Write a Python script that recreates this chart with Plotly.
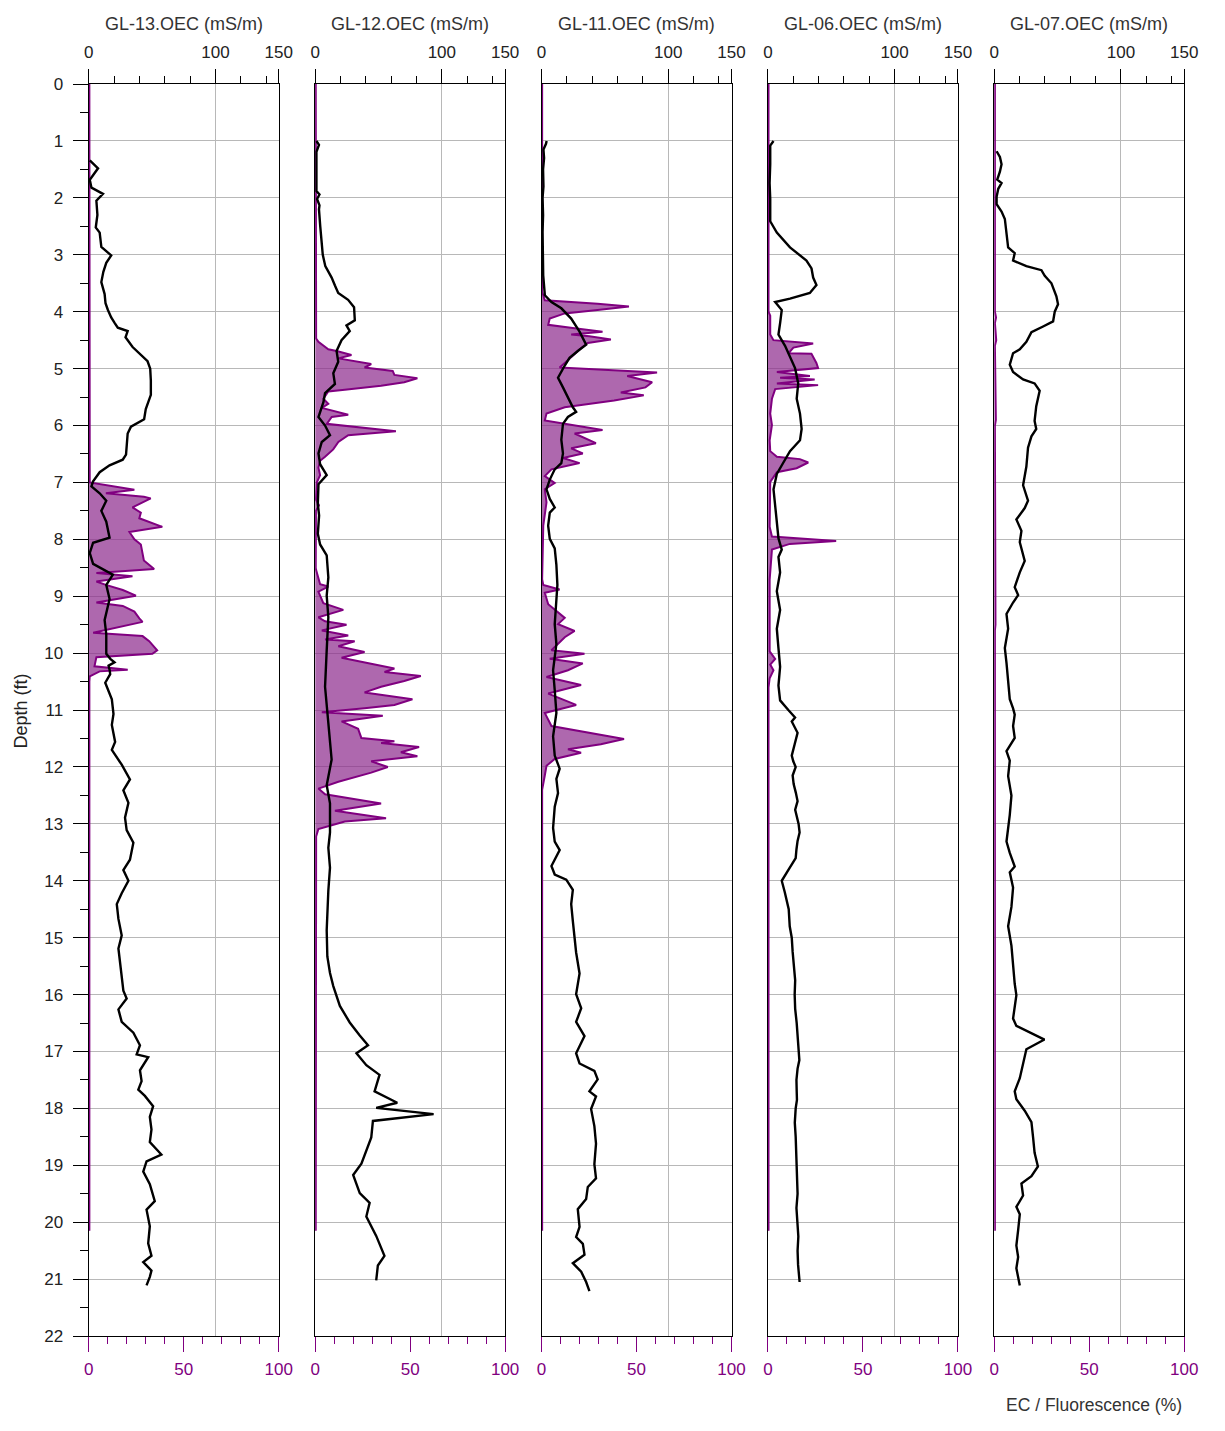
import plotly.graph_objects as go

# ---------------- data ----------------
wells = ["GL-13", "GL-12", "GL-11", "GL-06", "GL-07"]

gl13_ec_depth = [1.34,1.48,1.68,1.82,1.93,2.05,2.3,2.52,2.61,2.86,3.01,3.14,3.3,3.48,3.69,3.85,3.97,4.10,4.2,4.28,4.34,4.45,4.62,4.78,4.87,5.0,5.21,5.46,5.71,5.89,6.02,6.14,6.51,6.60,6.70,6.82,6.98,7.07,7.19,7.32,7.50,7.69,7.97,8.06,8.24,8.43,8.62,8.80,9.05,9.42,9.67,10.01,10.1,10.16,10.22,10.3,10.37,10.52,10.81,11.07,11.26,11.56,11.70,11.96,12.22,12.41,12.63,12.89,13.11,13.33,13.63,13.81,14.0,14.22,14.41,14.67,14.96,15.19,15.48,15.70,15.93,16.07,16.26,16.48,16.67,16.89,17.05,17.1,17.33,17.52,17.67,17.78,17.96,18.15,18.37,18.59,18.81,18.93,19.11,19.33,19.63,19.78,20.07,20.37,20.59,20.70,20.85,20.96,21.11]
gl13_ec = [0.8,7.3,0.8,2.1,11.2,6.0,6.8,5.5,8.6,9.9,17.7,13.8,11.5,9.9,12.5,13.2,15.1,17.7,20.5,22.9,30.7,29,34.6,42.5,46.4,48.5,49,49,45,43.7,33.3,30.7,29.4,26.8,16.4,8.6,3.4,2.1,8.6,13.8,9.9,13.8,16.4,3.4,0.8,3.4,19,13.8,16.4,12.5,13.8,13.8,17,20.3,15.6,16.5,16.9,13,18.2,19.5,18.2,20.8,18.2,26,32.5,27.3,31.3,28.6,29.9,35.2,32.5,27.3,31.3,26,22.1,23.4,26,23.4,24.7,26,27.3,29.9,23.4,26,35.2,40.4,37.8,46.9,40.4,41.7,39.1,44.3,50.8,48.2,49.5,48.2,57.3,45.6,43,48.2,52.1,45.6,48.2,46.9,49.5,43,49.5,48.2,45.6]
gl13_fl_depth = [0,6.98,7.0,7.13,7.19,7.25,7.28,7.44,7.53,7.63,7.78,7.87,8.0,8.09,8.28,8.37,8.52,8.59,8.65,8.74,8.80,8.89,8.99,9.11,9.17,9.27,9.39,9.45,9.64,9.70,9.79,9.95,10.01,10.07,10.23,10.29,10.32,10.41,10.5,20.15]
gl13_fl = [0.3,0.3,0.5,24,9,29,32.6,23,27.4,26.6,38.7,21.4,24,27.4,28.3,29,34.4,4,23,4,9,17.9,24.8,4,17.9,24,26.6,28.3,2.3,28.3,31.8,36,33.5,4,3,20.5,5.7,0.5,0.3,0.3]

gl12_ec_depth = [1.0,1.07,1.19,1.42,1.88,1.94,2.02,2.13,2.2,2.5,2.8,3.0,3.2,3.4,3.54,3.67,3.79,3.92,4.15,4.24,4.34,4.5,4.69,4.88,5.08,5.27,5.43,5.59,5.85,6.0,6.17,6.29,6.49,6.68,6.87,7.03,7.38,7.58,7.90,8.09,8.28,8.67,8.99,9.37,9.95,10.59,11.23,11.87,12.32,12.64,13.15,13.42,13.77,14.17,14.87,15.33,15.62,15.85,16.2,16.49,16.72,16.89,17.03,17.24,17.41,17.70,17.90,17.99,18.10,18.22,18.51,18.74,18.97,19.17,19.49,19.66,19.90,20.24,20.59,20.76,21.02]
gl12_ec = [1.0,3,1,1,1,3.4,1.5,3.4,3,4,5,6,8,13,15.6,18.2,26,30.7,31.3,24.7,27.3,20.8,16.9,18.2,14.3,15.6,7.8,6.5,2.6,7.8,11.7,5.2,2.6,3.9,9.1,2.6,2.1,3.1,2.1,3.9,9.1,10.4,9.1,10.4,9.1,7.8,10.4,13,9.1,11.7,11.7,10.4,11.7,10.4,9.1,9.6,11.7,14.3,19.5,27.3,35.2,41.7,32.6,40.4,50.8,46.9,64.8,48.2,93.5,45.6,44.3,40.4,36.5,30,35.2,43,40.4,48.2,54.7,49.5,48.2]
gl12_fl_depth = [0,4.4,4.47,4.53,4.66,4.69,4.76,4.82,4.85,4.92,4.98,5.04,5.11,5.17,5.24,5.30,5.37,5.40,5.53,5.62,5.69,5.81,5.85,5.97,6.10,6.17,6.29,6.42,6.55,6.62,6.74,6.87,7.0,7.3,7.4,7.5,8.5,8.54,8.79,8.83,8.92,9.12,9.24,9.37,9.44,9.50,9.60,9.69,9.76,9.79,9.88,9.98,10.08,10.21,10.27,10.33,10.40,10.49,10.59,10.69,10.81,10.91,10.97,11.04,11.10,11.20,11.33,11.49,11.55,11.58,11.65,11.74,11.81,11.90,12.0,12.10,12.26,12.38,12.48,12.64,12.77,12.90,12.96,13.09,13.22,20.15]
gl12_fl = [0.3,0.3,0.5,1.7,6.9,11.3,19.1,12.2,17.4,29.5,26,40.8,41.7,53.8,46.9,34.7,15.6,6.9,4.3,6.9,3.5,17.4,8.7,6.1,42.5,17.4,12.2,9.5,5.2,2.6,1.7,2.6,0.9,0.4,2,0.4,0.3,0.5,2.6,6.9,1.7,4.3,14.8,1.7,5.2,16.5,3.5,17.4,5.2,20.8,12.2,26,13.9,33,41.7,36.5,55.6,46.9,34.7,26,51.2,41.7,26,3.5,35.6,13.9,22.6,24.3,41.7,34.7,54.7,45.1,53.8,29.5,38.2,29.5,12.2,1.7,5.2,34.7,10.4,37.3,15.6,1.7,0.5,0.3]

gl11_ec_depth = [1.0,1.05,1.15,1.3,1.5,1.8,2.0,2.3,2.6,3.0,3.36,3.71,3.83,3.94,4.12,4.35,4.58,4.69,4.81,4.95,5.16,5.33,5.50,5.68,5.76,5.85,5.97,6.25,6.49,6.66,6.77,6.95,7.12,7.29,7.44,7.53,7.76,7.99,8.16,8.45,8.80,9.14,9.49,9.84,10.30,10.65,11.05,11.46,11.80,12.03,12.21,12.46,12.70,13.07,13.31,13.46,13.74,13.89,13.98,14.16,14.41,14.71,15.02,15.26,15.63,15.99,16.24,16.48,16.73,17.03,17.21,17.34,17.49,17.70,17.79,18.01,18.31,18.62,18.98,19.23,19.38,19.59,19.77,20.08,20.26,20.38,20.57,20.72,20.87,21.05,21.21]
gl11_ec = [4,3.5,1.5,2.0,1.2,1.5,0.8,1.2,0.8,0.8,1.3,2.6,7.8,15.6,23.4,30,35.2,28.6,22.1,18.2,13,16.9,20.8,24.7,27.3,20.8,16.9,15.6,16.9,15.6,10.4,6.5,3.9,6.5,10.4,6.5,5.2,6.5,10.4,11.7,12.5,11.7,10.4,11.7,9.1,10.4,11.7,9.1,10.4,14.3,11.7,13,10.4,9.1,10.4,14.3,7.8,10.4,19.5,24.7,23.4,24.7,26,27.3,30,27.3,31.3,27.3,33.9,27.3,30,41.7,44.3,37.8,43,39.1,41.7,43,41.7,43,36.5,35.2,28.6,30,27.3,32.6,33.9,24.7,31.3,35.2,37.8]
gl11_fl_depth = [0,3.65,3.71,3.80,3.86,3.91,3.97,4.03,4.12,4.23,4.29,4.35,4.40,4.43,4.49,4.55,4.64,4.75,4.90,4.98,5.07,5.13,5.24,5.33,5.42,5.47,5.56,5.68,5.79,5.91,6.08,6.14,6.31,6.40,6.49,6.57,6.66,6.77,6.89,7.01,7.12,7.35,7.53,7.76,8.7,8.80,8.88,8.94,9.14,9.38,9.49,9.61,9.72,9.95,10.01,10.10,10.18,10.30,10.42,10.56,10.71,10.91,11.05,11.17,11.28,11.51,11.60,11.69,11.75,11.86,11.98,12.15,12.29,12.4,20.15]
gl11_fl = [0.3,0.3,0.9,1.7,29.5,46,29.5,12.2,4.3,3.5,17.4,32.1,15.6,25.2,36.5,24.3,20.8,17.4,12.2,9.5,60.8,45.1,58.2,54.7,41.7,53.8,38.2,12.2,2.6,1.7,32.1,17.4,28.6,15.6,21.7,11.3,20,5.2,1.7,6.9,1.7,2.6,1.7,0.9,0.3,0.9,9.5,1.7,3.5,12.2,8.7,17.4,12.2,5.2,22.6,4.3,21.7,13.9,2.6,20.8,3.5,18.2,1.7,3.5,5.2,43.4,31.2,13.9,20.8,6.9,2.6,1.7,0.9,0.3,0.3]

gl06_ec_depth = [1.0,1.08,1.41,1.74,2.01,2.41,2.61,2.87,3.10,3.24,3.40,3.53,3.67,3.77,3.83,3.97,4.20,4.40,4.60,4.80,4.99,5.26,5.53,5.79,6.06,6.26,6.45,6.65,6.85,7.12,7.38,7.72,7.98,8.18,8.31,8.58,8.91,9.24,9.57,9.91,10.24,10.57,10.83,11.0,11.13,11.2,11.4,11.6,11.8,11.9,12.0,12.15,12.3,12.45,12.6,12.75,13.0,13.15,13.3,13.45,13.6,13.8,14.0,14.2,14.5,14.8,15.0,15.25,15.5,15.75,16.0,16.25,16.5,16.75,17.0,17.15,17.3,17.5,17.7,17.85,18.0,18.25,18.5,18.75,19.0,19.25,19.5,19.75,20.0,20.25,20.5,20.75,21.05]
gl06_ec = [4.4,1.8,1.8,1.3,1.8,1.8,7,17.4,30.4,34.4,35.7,38.3,33.1,17.4,5.7,10.9,9.6,8.3,13.5,17.4,21.4,23.9,22.7,25.3,26.6,25.3,17.4,12.2,7,4.4,5.7,7,8.3,10.9,8.3,9.6,7,9.6,7,8.3,9.6,8.3,9.6,16.1,21.4,18.8,23.4,21.1,18.8,20,21.9,19.5,20.3,22,23.4,21.5,24.2,25,23.4,22.5,21.9,16.4,10.9,13.3,16.4,17.2,18.8,19.5,20.3,21.5,21.1,21.5,22.7,23.5,24.2,24.8,23.4,22.5,22.7,22.9,21.9,21.2,21.9,22.3,22.7,23.1,23.4,22.5,23.4,24,23.4,23.8,25]
gl06_fl_depth = [0,4.0,4.07,4.33,4.40,4.50,4.53,4.56,4.63,4.73,4.74,4.90,4.99,5.06,5.13,5.16,5.19,5.26,5.29,5.36,5.53,5.79,5.99,6.26,6.45,6.55,6.59,6.65,6.75,6.82,6.99,7.78,7.95,8.03,8.08,8.18,8.71,9.97,10.10,10.20,10.30,10.44,10.6,20.15]
gl06_fl = [0.3,0.3,1.2,0.9,1.2,2.9,11.5,23.8,13.4,10.8,22.9,25.5,26.4,4.7,22.1,6.4,24.6,4.7,26.4,3.8,2.1,1.2,2.1,0.9,1.2,4.7,16.8,21.2,15.1,4.7,1.2,0.9,2.1,35.9,11.5,2.1,0.9,0.9,3.8,1.2,2.9,0.9,0.3,0.3]

gl07_ec_depth = [1.18,1.28,1.41,1.54,1.68,1.74,1.84,1.98,2.11,2.24,2.37,2.61,2.87,2.97,3.10,3.20,3.27,3.37,3.50,3.73,3.87,4.00,4.17,4.26,4.36,4.53,4.66,4.73,4.93,5.06,5.19,5.26,5.39,5.66,5.92,6.06,6.19,6.39,6.72,7.05,7.32,7.45,7.65,7.85,8.05,8.38,8.58,8.84,8.98,9.11,9.31,9.57,9.91,10.17,10.44,10.70,10.81,10.97,11.08,11.28,11.49,11.72,11.89,12.16,12.50,12.84,13.31,13.51,13.75,13.85,14.12,14.46,14.80,15.14,15.54,15.81,16.01,16.22,16.42,16.55,16.79,16.96,17.23,17.47,17.70,17.84,18.04,18.24,18.51,18.78,19.02,19.19,19.32,19.53,19.73,19.86,20.14,20.41,20.61,20.81,21.11]
gl07_ec = [1.8,4.4,5.7,4.4,2.3,5.7,3.1,1.8,1.8,5.7,8.3,9.6,10.9,16.1,14.8,25.3,37.2,39.8,45.1,49,50.3,47.7,46.4,38.5,29.3,25.3,20.1,14.8,12.2,14.8,22.7,31.8,35.8,33.1,31.8,33.1,29.3,26.6,25.3,22.7,26.6,24,17.4,21.4,20.1,24,20.1,16.1,18.8,14.8,9.6,10.9,8.3,9.6,10.9,12.2,12.2,14.8,16.1,14.8,16.1,9.6,12.2,10.9,13.5,12.2,9.6,12.2,16.1,12.2,14.8,13.5,10.9,13.5,14.8,16.1,17.4,16.1,14.8,17.4,39.6,25.3,22.7,20.1,16.1,17.4,24,29.3,30.6,31.8,34.4,29.3,21.4,22.7,17.4,20.1,18.8,17.4,18.8,17.4,20.1]
gl07_fl_depth = [0,4.0,4.1,4.2,4.5,4.6,5.9,6.0,9.5,9.6,20.15]
gl07_fl = [0.3,0.3,0.9,0.3,1.0,0.3,0.8,0.3,0.6,0.3,0.3]

ec_depths = [gl13_ec_depth, gl12_ec_depth, gl11_ec_depth, gl06_ec_depth, gl07_ec_depth]
ec_values = [gl13_ec, gl12_ec, gl11_ec, gl06_ec, gl07_ec]
fl_depths = [gl13_fl_depth, gl12_fl_depth, gl11_fl_depth, gl06_fl_depth, gl07_fl_depth]
fl_values = [gl13_fl, gl12_fl, gl11_fl, gl06_fl, gl07_fl]

depth_ticks = list(range(0, 23))

# ---------------- figure ----------------
# page body has an 8px default margin, so the figure is 16px smaller than the window
W, H = 1209, 1415
OFF = 8
PURPLE = "#800080"
FILL = "rgba(140,40,140,0.70)"
GRID = "#b8b8b8"
FONT = "Liberation Sans, Arial, sans-serif"
TICK_SIZE = 17
TITLE_SIZE = 18

panel_left = [85 - OFF, 315 - OFF, 545 - OFF, 775 - OFF, 1005 - OFF]
panel_w = 193
y_top, y_bot = 76 - OFF, 1345 - OFF
y_dom = [(H - y_bot) / H, (H - y_top) / H]

fig = go.Figure()
layout = dict(
    width=W, height=H,
    margin=dict(l=0, r=0, t=0, b=0),
    paper_bgcolor="white", plot_bgcolor="white",
    showlegend=False,
    font=dict(family=FONT, size=TICK_SIZE, color="#222"),
)
annotations = []

for i in range(5):
    fl_n = 2 * i + 1
    ec_n = 2 * i + 2
    fl_ref = "x" if fl_n == 1 else f"x{fl_n}"
    ec_ref = f"x{ec_n}"
    y_ref = "y" if i == 0 else f"y{i+1}"
    dom = [panel_left[i] / W, (panel_left[i] + panel_w) / W]

    # fluorescence (base axis, bottom)
    layout["xaxis" if fl_n == 1 else f"xaxis{fl_n}"] = dict(
        domain=dom, range=[0, 100], anchor=y_ref, side="bottom",
        tickmode="array", tickvals=[0, 50, 100],
        ticks="outside", ticklen=15, tickwidth=1.3, tickcolor=PURPLE,
        minor=dict(dtick=10, tick0=0, ticks="outside", ticklen=7, tickwidth=1.3,
                   tickcolor=PURPLE, showgrid=False),
        tickfont=dict(color=PURPLE, size=TICK_SIZE, family=FONT),
        ticklabelstandoff=2,
        showgrid=False, zeroline=False,
        showline=True, linecolor="black", linewidth=1.4, mirror=True,
    )
    # EC (overlaying axis, top)
    layout[f"xaxis{ec_n}"] = dict(
        domain=dom, range=[0, 150], anchor=y_ref, side="top", overlaying=fl_ref,
        tickmode="array", tickvals=[0, 100, 150],
        ticks="outside", ticklen=14, tickwidth=1.3, tickcolor="black",
        minor=dict(dtick=20, tick0=0, ticks="outside", ticklen=7, tickwidth=1.3,
                   tickcolor="black", showgrid=False),
        tickfont=dict(color="#222", size=TICK_SIZE, family=FONT),
        ticklabelstandoff=4,
        showgrid=True, gridcolor=GRID, gridwidth=1.2, zeroline=False,
        showline=False,
    )
    ykey = "yaxis" if i == 0 else f"yaxis{i+1}"
    yax = dict(
        domain=y_dom, range=[22, 0], anchor=fl_ref,
        tickmode="array", tickvals=depth_ticks,
        showgrid=True, gridcolor=GRID, gridwidth=1.2, zeroline=False,
        showline=True, linecolor="black", linewidth=1.4, mirror=True,
    )
    if i == 0:
        yax.update(
            ticks="outside", ticklen=15, tickwidth=1.3, tickcolor="black",
            minor=dict(dtick=0.5, tick0=0, ticks="outside", ticklen=8, tickwidth=1.3,
                       tickcolor="black", showgrid=False),
            tickfont=dict(color="#222", size=TICK_SIZE, family=FONT),
            ticklabelstandoff=6,
        )
    else:
        yax.update(ticks="", showticklabels=False)
    layout[ykey] = yax

    fig.add_trace(go.Scatter(
        x=fl_values[i], y=fl_depths[i], xaxis=fl_ref, yaxis=y_ref,
        mode="lines", line=dict(color=PURPLE, width=2),
        fill="tozerox", fillcolor=FILL, hoverinfo="skip",
    ))
    fig.add_trace(go.Scatter(
        x=ec_values[i], y=ec_depths[i], xaxis=ec_ref, yaxis=y_ref,
        mode="lines", line=dict(color="black", width=2.4), hoverinfo="skip",
    ))

    annotations.append(dict(
        text=f"{wells[i]}.OEC (mS/m)", xref="paper", yref="paper",
        x=(panel_left[i] + panel_w / 2) / W, y=(H - (15 - OFF)) / H,
        xanchor="center", yanchor="middle", showarrow=False,
        font=dict(size=TITLE_SIZE, color="#333", family=FONT),
    ))

annotations.append(dict(
    text="Depth (ft)", xref="paper", yref="paper",
    x=(16 - OFF) / W, y=(H - (711 - OFF)) / H, textangle=-90,
    xanchor="center", yanchor="middle", showarrow=False,
    font=dict(size=18, color="#222", family=FONT),
))
annotations.append(dict(
    text="EC / Fluorescence (%)", xref="paper", yref="paper",
    x=(1106 - OFF) / W, y=(H - (1415 - OFF)) / H,
    xanchor="center", yanchor="middle", showarrow=False,
    font=dict(size=17.5, color="#333", family=FONT),
))
layout["annotations"] = annotations
fig.update_layout(**layout)

fig.write_html("out.html")
